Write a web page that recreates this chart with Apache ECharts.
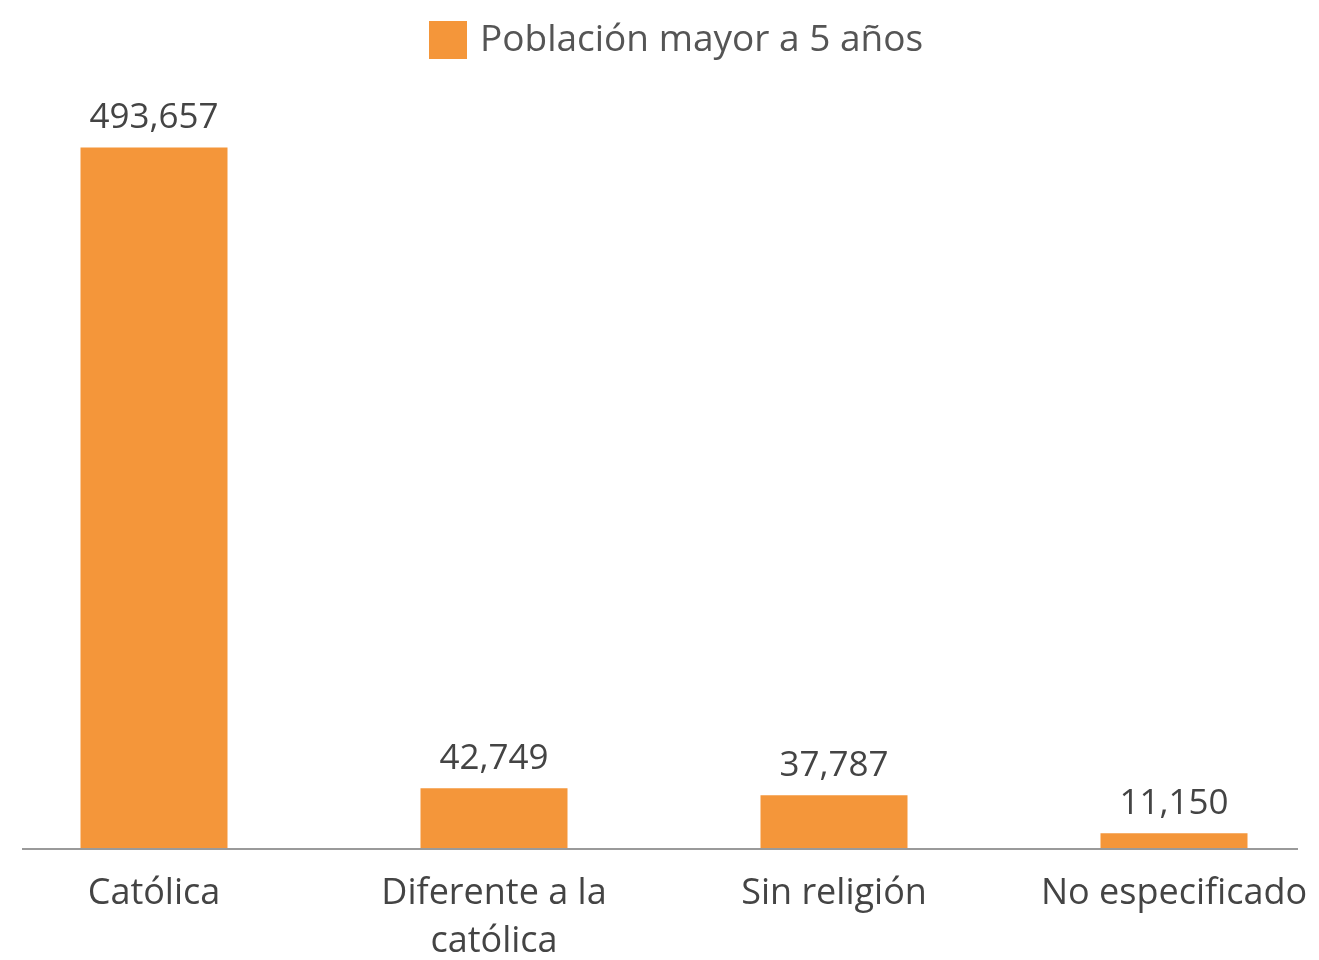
<!DOCTYPE html>
<html>
<head>
<meta charset="utf-8">
<script src="https://cdn.jsdelivr.net/npm/echarts@6/dist/echarts.min.js"></script>
<style>
html,body{margin:0;padding:0;background:#fff;}
#tb1{width:1319px;height:960px;}
</style>
</head>
<body>
<div id="tb1"></div>
<script>
// datos
var categorias = ['Católica', 'Diferente a la\ncatólica', 'Sin religión', 'No especificado'];
var poblacion = [493657, 42749, 37787, 11150];
var nombreSerie = 'Población mayor a 5 años';

var myChart1 = echarts.init(document.getElementById('tb1'));

var option1 = {
    backgroundColor: '#ffffff',
    animation: false,
    legend: {
        data: [nombreSerie],
        top: 16,
        left: 424,
        icon: 'rect',
        itemWidth: 38,
        itemHeight: 38,
        itemGap: 12,
        textStyle: {fontFamily: 'Open Sans', fontSize: 37, color: '#555', padding: [0, 0, 0, 8]}
    },
    grid: {left: -16, right: -25, top: 100, bottom: 111, outerBoundsMode: 'none', containLabel: false},
    xAxis: {
        type: 'category',
        data: categorias,
        axisLine: {show: false},
        axisTick: {show: false},
        axisLabel: {
            fontFamily: 'Open Sans',
            fontSize: 36,
            color: '#444',
            margin: 21,
            lineHeight: 48,
            interval: 0
        }
    },
    yAxis: {
        type: 'value',
        min: 0,
        max: 527000,
        show: false,
        splitLine: {show: false}
    },
    graphic: [{
        type: 'line',
        shape: {x1: 22, y1: 849, x2: 1298, y2: 849},
        style: {stroke: '#9a9a9a', lineWidth: 2},
        z: 10
    }],
    series: [{
        name: nombreSerie,
        type: 'bar',
        data: poblacion,
        barWidth: 147,
        itemStyle: {color: '#F4963A'},
        label: {
            show: true,
            position: 'top',
            distance: 12,
            fontFamily: 'Open Sans',
            fontSize: 35,
            color: '#444',
            formatter: function(p){
                return p.value.toLocaleString('en-US');
            }
        }
    }]
};
myChart1.setOption(option1);
</script>
</body>
</html>
